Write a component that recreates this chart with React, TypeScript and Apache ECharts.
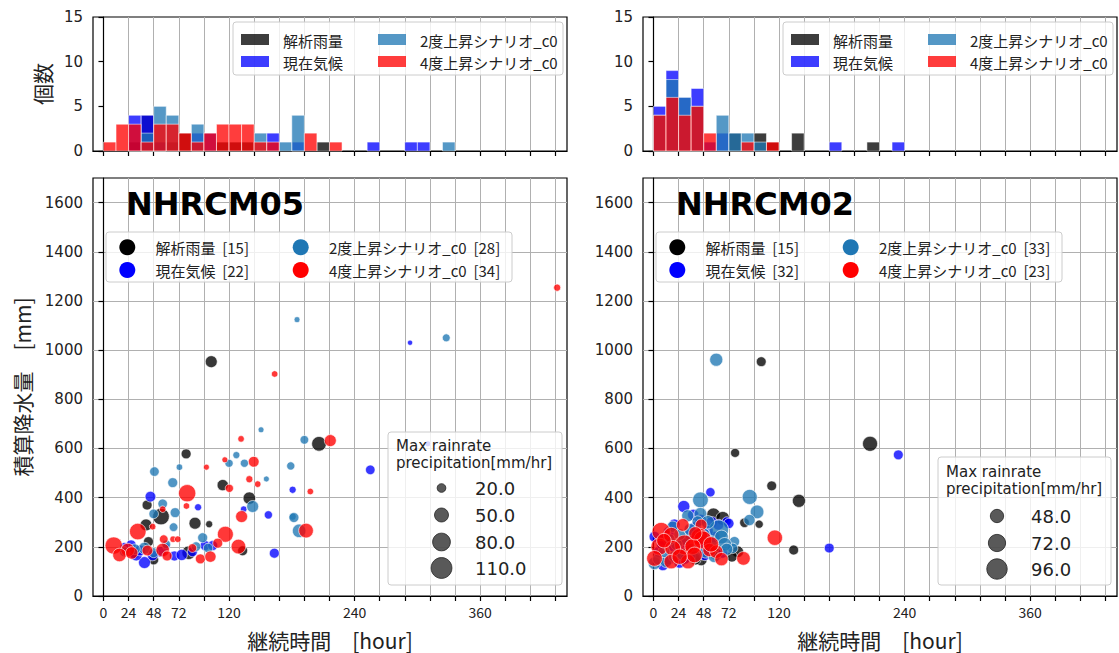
import React, { useEffect, useRef } from "react";
import * as echarts from "echarts";

// ---------- data ----------
const SERIES_NAMES = ["解析雨量", "現在気候", "2度上昇シナリオ_c0", "4度上昇シナリオ_c0"];
const SERIES_COLORS = ["#000000", "#0000ff", "#1f77b4", "#ff0000"];
const MODEL_NAMES = ["NHRCM05", "NHRCM02"];
const COUNTS_05 = [15, 22, 28, 34];
const COUNTS_02 = [15, 32, 33, 23];

const BIN_WIDTH = 12; // hours per histogram bin

// histogram counts per 12-hour bin (bin i = [12i, 12i+12))
const HIST05_OBS = [0, 0, 1, 4, 1, 1, 2, 0, 0, 1, 1, 1, 0, 0, 0, 0, 0, 1, 0, 0, 0, 0, 0, 0, 0, 0, 0, 0];
const HIST05_NOW = [0, 0, 4, 4, 1, 0, 0, 2, 2, 0, 0, 0, 0, 2, 0, 1, 0, 0, 0, 0, 0, 1, 0, 0, 1, 1, 0, 0];
const HIST05_P2 = [0, 0, 0, 2, 5, 4, 0, 3, 0, 0, 0, 0, 2, 0, 1, 4, 0, 0, 0, 0, 0, 0, 0, 0, 0, 0, 0, 1];
const HIST05_P4 = [1, 3, 3, 1, 3, 3, 2, 1, 2, 3, 3, 3, 1, 1, 0, 0, 2, 0, 1, 0, 0, 0, 0, 0, 0, 0, 0, 0];

const HIST02_OBS = [0, 0, 0, 0, 0, 0, 2, 0, 2, 1, 0, 2, 0, 0, 0, 0, 0, 1, 0, 0];
const HIST02_NOW = [5, 9, 6, 7, 1, 2, 0, 0, 0, 0, 0, 0, 0, 0, 1, 0, 0, 0, 0, 1];
const HIST02_P2 = [4, 8, 6, 5, 0, 4, 2, 2, 1, 0, 0, 0, 0, 0, 0, 0, 0, 0, 0, 0];
const HIST02_P4 = [4, 6, 4, 5, 2, 0, 0, 1, 0, 1, 0, 0, 0, 0, 0, 0, 0, 0, 0, 0];

// scatter points: [duration (hour), total precipitation (mm), max rainrate (mm/hr)]
const SC05_OBS = [
  [79, 578, 26], [41.7, 370, 26], [55, 323, 70], [40.7, 289, 37], [87.5, 296, 37],
  [101, 292, 14], [139.4, 398, 40], [133, 184, 26], [48, 147, 26], [43, 221, 26],
  [81.5, 176, 47], [206, 619, 55], [103, 953, 37], [114, 451, 33], [30, 175, 30],
];
const SC05_NOW = [
  [44.9, 404, 30], [90.4, 361, 14], [134, 353, 12], [157.6, 330, 18], [180.8, 432, 14],
  [26.4, 208, 26], [39.2, 136, 37], [31.2, 167, 37], [67.8, 163, 26], [74.8, 167, 33],
  [97.1, 205, 26], [104.4, 205, 26], [163.3, 174, 26], [255, 513, 24], [293, 1030, 8],
  [310, 619, 10], [20, 200, 20], [55, 180, 30], [85, 180, 26], [35, 185, 30],
  [60, 200, 14], [47, 165, 30],
];
const SC05_P2 = [
  [150.6, 676, 10], [48.7, 506, 24], [72.6, 524, 12], [66.2, 461, 26], [127, 573, 14],
  [120, 540, 18], [134.7, 540, 18], [155.7, 476, 10], [56.6, 375, 24], [48, 334, 24],
  [68.5, 339, 26], [67, 280, 20], [142.6, 364, 37], [180.8, 323, 14], [179, 529, 18],
  [94.8, 237, 26], [39.2, 194, 37], [48, 176, 26], [88.5, 201, 24], [185, 1124, 10],
  [192, 635, 20], [182, 319, 26], [187, 265, 47], [327.6, 1050, 17], [30, 190, 30],
  [20, 180, 26], [60, 210, 20], [100, 195, 24],
];
const SC05_P4 = [
  [131.5, 639, 12], [98.4, 524, 10], [116, 554, 10], [143.6, 546, 30], [139.4, 475, 14],
  [147.4, 455, 12], [120.3, 438, 18], [80, 418, 76], [79.3, 366, 12], [56.6, 353, 12],
  [47, 282, 12], [32.8, 262, 70], [132, 323, 37], [116.5, 251, 65], [66.5, 231, 12],
  [71, 231, 12], [57.6, 231, 20], [129, 201, 55], [9.8, 205, 76], [23.2, 187, 47],
  [15.3, 167, 47], [56.6, 187, 47], [60.8, 163, 26], [92.6, 151, 26], [102.2, 160, 33],
  [109.2, 215, 26], [163.6, 903, 12], [216.8, 632, 37], [197.7, 425, 12], [193.6, 266, 55],
  [433.6, 1254, 14], [27, 175, 40], [42, 185, 30], [85, 195, 20],
];

const SC02_OBS = [
  [103, 953, 32], [207, 619, 58], [78, 582, 29], [113, 448, 32], [139, 387, 47],
  [134, 187, 32], [101, 292, 26], [87, 298, 31], [80.5, 180, 40], [57.3, 330, 50],
  [66.2, 316, 50], [45.6, 147, 40], [60, 170, 40], [75, 160, 36], [40, 150, 40],
];
const SC02_NOW = [
  [234, 574, 32], [168, 195, 32], [66, 174, 32], [54.4, 422, 30], [29, 364, 42],
  [70, 303, 30], [1, 241, 36], [9, 126, 38], [25, 136, 38], [49, 167, 38],
  [55.7, 300, 38], [10, 230, 40], [15, 260, 40], [20, 290, 38], [30, 210, 40],
  [35, 250, 36], [40, 280, 38], [45, 230, 38], [5, 180, 36], [15, 150, 38],
  [25, 180, 38], [35, 160, 36], [50, 200, 38], [58, 240, 38], [62, 290, 36],
  [72, 295, 34], [38, 330, 38], [20, 200, 38], [8, 210, 36], [45, 310, 38],
  [30, 150, 34], [52, 265, 36],
];
const SC02_P2 = [
  [60, 961, 47], [92, 403, 58], [99, 342, 50], [91.7, 309, 38], [77.4, 221, 34],
  [75.7, 194, 34], [44.9, 391, 62], [32.8, 326, 42], [44.9, 334, 45], [62.4, 269, 90],
  [42.3, 303, 38], [18.4, 282, 38], [1, 133, 44], [5, 150, 42], [12, 140, 40],
  [20, 160, 40], [28, 170, 42], [36, 190, 40], [50, 180, 45], [55, 220, 45],
  [65, 240, 50], [48, 250, 45], [30, 230, 42], [22, 210, 40], [10, 180, 40],
  [40, 160, 40], [58, 160, 40], [68, 210, 50], [52, 300, 48], [25, 250, 40],
  [15, 230, 40], [70, 190, 42], [35, 270, 42],
];
const SC02_P4 = [
  [116, 237, 60], [86, 153, 50], [28, 289, 45], [45.6, 289, 40], [7.4, 262, 80],
  [17, 248, 60], [44, 241, 70], [47, 228, 78], [29.6, 208, 90], [37.5, 201, 62],
  [5.7, 201, 70], [18.4, 194, 62], [53.5, 187, 48], [1, 153, 62], [17, 140, 55],
  [33, 140, 55], [39.2, 167, 62], [60, 180, 48], [25, 160, 60], [10, 225, 55],
  [55, 210, 60], [40, 255, 48], [65, 150, 48],
];

const X_TICKS = [0, 24, 48, 72, 96, 120, 144, 168, 192, 216, 240, 264, 288, 312, 336, 360, 384, 408, 432];
const X_TICK_LABELS = [0, 24, 48, 72, 120, 240, 360];
const SCATTER_Y_TICKS = [0, 200, 400, 600, 800, 1000, 1200, 1400, 1600];
const HIST_Y_TICKS = [0, 5, 10, 15];
const SIZE_LEGEND_05 = [20, 50, 80, 110];
const SIZE_LEGEND_02 = [48, 72, 96];

const SIZE_TITLE = ["Max rainrate", "precipitation[mm/hr]"];
const X_NAME = "継続時間　[hour]";
const Y_NAME_SCATTER = "積算降水量　[mm]";
const Y_NAME_HIST = "個数";

// ---------- style / layout ----------
const JP = "'Noto Sans CJK JP', 'Noto Sans', sans-serif";
const DJ = "'DejaVu Sans', sans-serif";
const PANEL_DX = 550;
const size05 = (r: number) => Math.sqrt(Math.max(25, 75 + 4 * (r - 20)));
const size02 = (r: number) => Math.sqrt(Math.max(40, 177 + 5 * (r - 48)));

const PANELS = [
  {
    hist: [HIST05_OBS, HIST05_NOW, HIST05_P2, HIST05_P4],
    scatter: [SC05_OBS, SC05_NOW, SC05_P2, SC05_P4],
    counts: COUNTS_05,
    sizeFn: size05,
    sizeLegend: SIZE_LEGEND_05,
    box: { x: 388, y: 432, w: 174, h: 153, titleY: [446, 463], markerX: 441.5, rowsY: [488, 515, 542, 568], labelX: 475 },
  },
  {
    hist: [HIST02_OBS, HIST02_NOW, HIST02_P2, HIST02_P4],
    scatter: [SC02_OBS, SC02_NOW, SC02_P2, SC02_P4],
    counts: COUNTS_02,
    sizeFn: size02,
    sizeLegend: SIZE_LEGEND_02,
    box: { x: 938, y: 457, w: 173, h: 128, titleY: [472, 489], markerX: 997, rowsY: [516, 543, 569], labelX: 1031 },
  },
];

function xAxisFor(gridIndex: number, isScatter: boolean) {
  return {
    type: "value",
    gridIndex,
    min: -10,
    max: 443,
    axisLine: { show: true, lineStyle: { color: "#000", width: 1.2 } },
    axisTick: { show: true, inside: false, length: 5, customValues: X_TICKS, lineStyle: { color: "#000", width: 1.2 } },
    axisLabel: {
      show: isScatter,
      customValues: X_TICK_LABELS,
      formatter: (v: number) => String(v),
      fontFamily: JP,
      fontSize: 14,
      color: "#222",
      margin: 9,
    },
    splitLine: { show: true, lineStyle: { color: "#b0b0b0", width: 1 } },
    name: isScatter ? X_NAME : "",
    nameLocation: "middle",
    nameGap: 33,
    nameTextStyle: { fontFamily: JP, fontSize: 21, color: "#222" },
  };
}

function yAxisFor(gridIndex: number, isScatter: boolean, showName: boolean) {
  const ticks = isScatter ? SCATTER_Y_TICKS : HIST_Y_TICKS;
  return {
    type: "value",
    gridIndex,
    min: 0,
    max: isScatter ? 1700 : 15,
    axisLine: { show: true, lineStyle: { color: "#000", width: 1.2 } },
    axisTick: { show: true, inside: false, length: 5, customValues: ticks, lineStyle: { color: "#000", width: 1.2 } },
    axisLabel: {
      customValues: ticks,
      formatter: (v: number) => String(v),
      fontFamily: DJ,
      fontSize: 15,
      color: "#222",
      margin: 10,
    },
    splitLine: { show: isScatter, lineStyle: { color: "#b0b0b0", width: 1 } },
    name: showName ? (isScatter ? Y_NAME_SCATTER : Y_NAME_HIST) : "",
    nameLocation: "middle",
    nameRotate: 90,
    nameGap: isScatter ? 61 : 41,
    nameTextStyle: { fontFamily: JP, fontSize: 21, color: "#222" },
  };
}

function buildOption() {
  const grids: any[] = [];
  const xAxes: any[] = [];
  const yAxes: any[] = [];
  const series: any[] = [];
  const graphics: any[] = [];

  PANELS.forEach((panel, p) => {
    const dx = p * PANEL_DX;
    const gHist = p * 2;
    const gSc = p * 2 + 1;
    grids.push({ left: 93 + dx, top: 17, width: 474, height: 134, show: true, borderColor: "#000", borderWidth: 1.2, backgroundColor: "#fff", outerBoundsMode: "none" });
    grids.push({ left: 93 + dx, top: 178, width: 474, height: 418, show: true, borderColor: "#000", borderWidth: 1.2, backgroundColor: "#fff", outerBoundsMode: "none" });
    xAxes.push(xAxisFor(gHist, false));
    xAxes.push(xAxisFor(gSc, true));
    yAxes.push(yAxisFor(gHist, false, p === 0));
    yAxes.push(yAxisFor(gSc, true, p === 0));

    panel.hist.forEach((counts, s) => {
      const color = SERIES_COLORS[s];
      series.push({
        type: "custom",
        name: SERIES_NAMES[s],
        xAxisIndex: gHist,
        yAxisIndex: gHist,
        data: counts
          .map((c, i) => [i * BIN_WIDTH, (i + 1) * BIN_WIDTH, c])
          .filter((d) => d[2] > 0),
        encode: { x: [0, 1], y: 2 },
        renderItem: (_params: any, api: any) => {
          const p0 = api.coord([api.value(0), api.value(2)]);
          const p1 = api.coord([api.value(1), 0]);
          return {
            type: "rect",
            shape: { x: p0[0], y: p0[1], width: p1[0] - p0[0], height: p1[1] - p0[1] },
            style: { fill: color, stroke: "#ffffff", lineWidth: 0.7, opacity: 0.76 },
          };
        },
        z: 3 + s,
      });
    });

    panel.scatter.forEach((pts, s) => {
      series.push({
        type: "scatter",
        name: `${SERIES_NAMES[s]} [${panel.counts[s]}]`,
        xAxisIndex: gSc,
        yAxisIndex: gSc,
        data: pts,
        symbol: "circle",
        symbolSize: (v: number[]) => panel.sizeFn(v[2]),
        itemStyle: { color: SERIES_COLORS[s], opacity: 0.78, borderColor: "#ffffff", borderWidth: 0.8 },
        z: 3 + s,
      });
    });

    // histogram legend
    graphics.push({
      type: "rect", z: 100,
      shape: { x: 233 + dx, y: 22, width: 330, height: 53, r: 3 },
      style: { fill: "rgba(255,255,255,0.8)", stroke: "#cccccc", lineWidth: 1 },
    });
    SERIES_NAMES.forEach((nm, s) => {
      const col = Math.floor(s / 2);
      const row = s % 2;
      const px = (col === 0 ? 241 : 378) + dx;
      const py = row === 0 ? 40 : 62;
      graphics.push({
        type: "rect", z: 101,
        shape: { x: px, y: py - 6, width: 28, height: 11 },
        style: { fill: SERIES_COLORS[s], opacity: 0.76 },
      });
      graphics.push({
        type: "text", z: 101,
        x: (col === 0 ? 283 : 420) + dx, y: py,
        style: { text: nm, fill: "#222", font: `15px ${JP}`, textVerticalAlign: "middle" },
      });
    });

    // scatter legend
    graphics.push({
      type: "rect", z: 100,
      shape: { x: 106 + dx, y: 232, width: 406, height: 50, r: 3 },
      style: { fill: "rgba(255,255,255,0.8)", stroke: "#cccccc", lineWidth: 1 },
    });
    SERIES_NAMES.forEach((nm, s) => {
      const col = Math.floor(s / 2);
      const row = s % 2;
      const cy = row === 0 ? 247.3 : 270;
      graphics.push({
        type: "circle", z: 101,
        shape: { cx: (col === 0 ? 127.3 : 300.7) + dx, cy, r: 8 },
        style: { fill: SERIES_COLORS[s] },
      });
      graphics.push({
        type: "text", z: 101,
        x: (col === 0 ? 155.5 : 329) + dx, y: cy,
        style: { text: `${nm}  [${panel.counts[s]}]`, fill: "#222", font: `15px ${JP}`, textVerticalAlign: "middle" },
      });
    });

    // model title
    graphics.push({
      type: "text", z: 101,
      x: 126 + dx, y: 204,
      style: { text: MODEL_NAMES[p], fill: "#000", font: `bold 32px ${DJ}`, textVerticalAlign: "middle" },
    });

    // size legend
    const b = panel.box;
    graphics.push({
      type: "rect", z: 100,
      shape: { x: b.x, y: b.y, width: b.w, height: b.h, r: 3 },
      style: { fill: "rgba(255,255,255,0.8)", stroke: "#cccccc", lineWidth: 1 },
    });
    SIZE_TITLE.forEach((t, i) => {
      graphics.push({
        type: "text", z: 101,
        x: b.x + 8, y: b.titleY[i],
        style: { text: t, fill: "#222", font: `15px ${DJ}`, textVerticalAlign: "middle" },
      });
    });
    panel.sizeLegend.forEach((v, i) => {
      graphics.push({
        type: "circle", z: 101,
        shape: { cx: b.markerX, cy: b.rowsY[i], r: panel.sizeFn(v) / 2 },
        style: { fill: "rgba(0,0,0,0.65)", stroke: "#222", lineWidth: 0.8 },
      });
      graphics.push({
        type: "text", z: 101,
        x: b.labelX, y: b.rowsY[i],
        style: { text: v.toFixed(1), fill: "#222", font: `18px ${DJ}`, textVerticalAlign: "middle" },
      });
    });
  });

  return {
    animation: false,
    backgroundColor: "#ffffff",
    grid: grids,
    xAxis: xAxes,
    yAxis: yAxes,
    series,
    graphic: { elements: graphics },
  };
}

export default function App() {
  const ref = useRef<HTMLDivElement>(null);
  useEffect(() => {
    if (!ref.current) return;
    const chart = echarts.init(ref.current, null, { renderer: "svg" });
    chart.setOption(buildOption() as any);
    return () => chart.dispose();
  }, []);
  return (
    <div
      ref={ref}
      style={{ position: "fixed", left: 0, top: 0, width: 1119, height: 653, background: "#fff" }}
    />
  );
}
